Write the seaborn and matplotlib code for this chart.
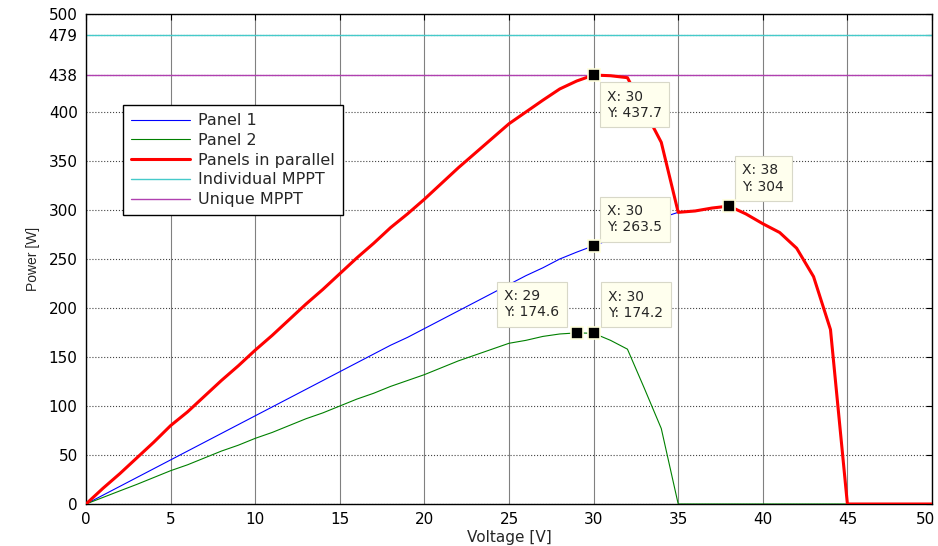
import numpy as np
import pandas as pd
import matplotlib
matplotlib.use('Agg')
import matplotlib.pyplot as plt
import matplotlib.transforms as mtrans
import seaborn as sns

# Voltage steps [V]
voltage = list(range(0, 51))

# Power [W]
panel1 = [0, 9, 18, 27, 36, 45, 54, 63, 72, 81,
          90, 99, 108, 117, 126, 135, 144, 153, 162, 170,
          179, 188, 197, 206, 215, 224, 233, 241, 250, 257,
          263.5, 270, 277, 284, 292, 297.6, 299, 302, 304, 296,
          286, 277, 261, 232, 178, 0, 0, 0, 0, 0, 0]
panel2 = [0, 6.7, 13.4, 20, 27, 34, 40, 47, 54, 60,
          67, 73, 80, 87, 93, 100, 107, 113, 120, 126,
          132, 139, 146, 152, 158, 164, 167, 171, 173.5, 174.6,
          174.2, 167, 158, 118, 77, 0, 0, 0, 0, 0,
          0, 0, 0, 0, 0, 0, 0, 0, 0, 0, 0]
parallel = [0, 16, 31, 47, 63, 80, 94, 110, 126, 141,
            157, 172, 188, 204, 219, 235, 251, 266, 282, 296,
            311, 327, 343, 358, 373, 388, 400, 412, 423.5, 431.6,
            437.7, 437, 435, 402, 369, 297.6, 299, 302, 304, 296,
            286, 277, 261, 232, 178, 0, 0, 0, 0, 0, 0]

individual_mppt = 479
unique_mppt = 438

# data tips
tips_x = [30, 38, 30, 29, 30]
tips_y = [437.7, 304, 263.5, 174.6, 174.2]

df = pd.DataFrame({'Voltage': voltage, 'Panel 1': panel1,
                   'Panel 2': panel2, 'Panels in parallel': parallel})

sns.set_theme(style='white')
plt.rcParams['font.family'] = ['DejaVu Sans']

fig = plt.figure(figsize=(9.38, 5.46), dpi=100)
ax = fig.add_axes([0.0917, 0.0769, 0.9019, 0.8975])

sns.lineplot(data=df, x='Voltage', y='Panel 1', color='#0000FF', lw=0.8,
             label='Panel 1', ax=ax, zorder=3)
sns.lineplot(data=df, x='Voltage', y='Panel 2', color='#008000', lw=0.8,
             label='Panel 2', ax=ax, zorder=3)
sns.lineplot(data=df, x='Voltage', y='Panels in parallel', color='#FF0000', lw=2.2,
             label='Panels in parallel', ax=ax, zorder=4)
ax.axhline(individual_mppt, color='#45CACA', lw=1.0, label='Individual MPPT', zorder=2)
ax.axhline(unique_mppt, color='#B040B0', lw=1.0, label='Unique MPPT', zorder=2)

ax.set_xlim(0, 50)
ax.set_ylim(0, 500)
ax.set_xticks(range(0, 51, 5))
ax.set_yticks([0, 50, 100, 150, 200, 250, 300, 350, 400, 438, 479, 500])
ax.tick_params(direction='in', length=4, width=0.8, top=True, right=True,
               labelsize=11, colors='black', pad=6)
ax.set_xlabel('Voltage [V]', fontsize=11, labelpad=2)
ax.set_ylabel('Power [W]', fontsize=10, family='Liberation Sans', labelpad=6)

# last x label sits on the figure edge; nudge it inside
fig.canvas.draw()
last = ax.get_xticklabels()[-1]
last.set_transform(last.get_transform() +
                   mtrans.ScaledTranslation(-6 / 100, 0, fig.dpi_scale_trans))

ax.xaxis.grid(True, linestyle='-', color='#808080', lw=0.8)
ax.yaxis.grid(True, linestyle=':', color='#444444', lw=0.8)
ax.set_axisbelow(True)
for s in ax.spines.values():
    s.set_color('black')
    s.set_linewidth(1.0)

# data tips: box offset from marker in px (dx, dy) and anchor
pad_px = 7.5
offsets = [(6, -7, 'left', 'top'), (6, 5, 'left', 'bottom'), (6, 4, 'left', 'bottom'),
           (-10, 6, 'right', 'bottom'), (7, 6, 'left', 'bottom')]
for x, y, (dx, dy, ha, va) in zip(tips_x, tips_y, offsets):
    ox = dx + pad_px if dx > 0 else dx - pad_px
    oy = dy + pad_px if dy > 0 else dy - pad_px
    ax.plot(x, y, marker='s', ms=9, color='black', mec='#FFFFDD', mew=1.2,
            zorder=9, clip_on=False)
    ax.annotate(f'X: {x}\nY: {y:g}', xy=(x, y), xytext=(ox, oy),
                textcoords='offset pixels', ha=ha, va=va, multialignment='left',
                fontsize=10, linespacing=1.2, zorder=7,
                bbox=dict(boxstyle='square,pad=0.54', fc='#FFFFEE', ec='#D8D8C8', lw=0.8))

leg = ax.legend(loc='upper left', bbox_to_anchor=(0.0437, 0.814), fontsize=11.5,
                handlelength=3.7, labelspacing=0.3, frameon=True, fancybox=False,
                framealpha=1, edgecolor='black', borderpad=0.5, handletextpad=0.5,
                borderaxespad=0)
leg.get_frame().set_linewidth(1.0)
leg.set_zorder(8)

fig.savefig('out.png', dpi=100)
